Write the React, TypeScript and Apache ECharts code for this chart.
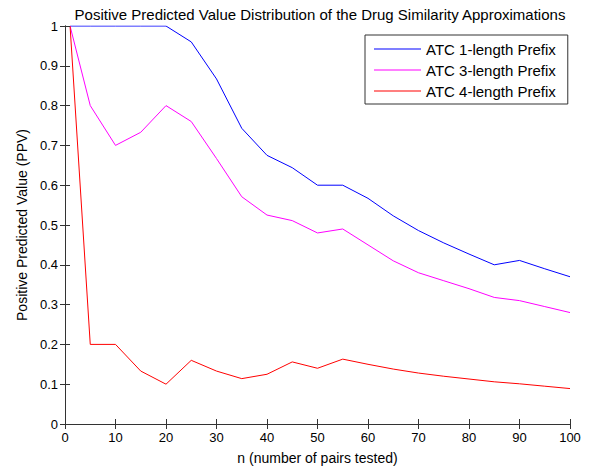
import React, { useEffect, useRef } from "react";
import * as echarts from "echarts";

const nValues = [1, 5, 10, 15, 20, 25, 30, 35, 40, 45, 50, 55, 60, 65, 70, 75, 80, 85, 90, 95, 100];
const atc1 = [1, 1, 1, 1, 1, 0.96, 0.867, 0.743, 0.675, 0.644, 0.6, 0.6, 0.567, 0.523, 0.486, 0.455, 0.427, 0.4, 0.411, 0.39, 0.37];
const atc3 = [1, 0.8, 0.7, 0.733, 0.8, 0.76, 0.667, 0.571, 0.525, 0.511, 0.48, 0.49, 0.45, 0.41, 0.38, 0.36, 0.34, 0.318, 0.31, 0.295, 0.28];
const atc4 = [1, 0.2, 0.2, 0.133, 0.1, 0.16, 0.133, 0.114, 0.125, 0.156, 0.14, 0.163, 0.15, 0.138, 0.128, 0.12, 0.113, 0.106, 0.101, 0.095, 0.089];
const seriesNames = ["ATC 1-length Prefix", "ATC 3-length Prefix", "ATC 4-length Prefix"];
const seriesColors = ["#0000ff", "#ff00ff", "#ff0000"];

const FONT = "'Liberation Sans', Arial, sans-serif";

export default function App() {
  const ref = useRef<HTMLDivElement>(null);
  useEffect(() => {
    if (!ref.current) return;
    const chart = echarts.init(ref.current, null, { renderer: "svg" });
    const allData = [atc1, atc3, atc4];
    const axisLine = { show: true, lineStyle: { color: "#333", width: 1 } };
    const tick = { show: true, inside: true, length: 5, lineStyle: { color: "#333" } };
    const label = { color: "#000", fontSize: 13, fontFamily: FONT };
    chart.setOption({
      animation: false,
      backgroundColor: "#fff",
      title: {
        text: "Positive Predicted Value Distribution of the Drug Similarity Approximations",
        left: 315,
        textAlign: "center",
        top: 2,
        textStyle: { fontSize: 15, fontWeight: "normal", color: "#000", fontFamily: FONT },
      },
      grid: { left: 65, right: 25, top: 26, bottom: 49, containLabel: false },
      legend: {
        orient: "vertical",
        left: 365,
        top: 35,
        padding: [5, 12, 4, 9],
        itemWidth: 47,
        itemHeight: 1,
        itemGap: 3,
        icon: "rect",
        backgroundColor: "#fff",
        borderColor: "#333",
        borderWidth: 1,
        borderRadius: 0,
        textStyle: { fontSize: 15, color: "#000", fontFamily: FONT, lineHeight: 18 },
        data: seriesNames,
        itemStyle: { borderWidth: 0 },
      },
      xAxis: [
        {
          type: "value",
          min: 0,
          max: 100,
          interval: 10,
          position: "bottom",
          name: "n (number of pairs tested)",
          nameLocation: "middle",
          nameGap: 27,
          nameTextStyle: { fontSize: 14, color: "#000", fontFamily: FONT },
          axisLine,
          axisTick: tick,
          axisLabel: { ...label, margin: 7 },
          splitLine: { show: false },
          z: 5,
        },
        {
          type: "value",
          min: 0,
          max: 100,
          interval: 10,
          position: "top",
          axisLine,
          axisTick: tick,
          axisLabel: { show: false },
          splitLine: { show: false },
          z: 5,
        },
      ],
      yAxis: [
        {
          type: "value",
          min: 0,
          max: 1,
          interval: 0.1,
          position: "left",
          name: "Positive Predicted Value (PPV)",
          nameLocation: "middle",
          nameGap: 36,
          nameTextStyle: { fontSize: 14, color: "#000", fontFamily: FONT },
          axisLine,
          axisTick: tick,
          axisLabel: { ...label, margin: 7 },
          splitLine: { show: false },
          z: 5,
        },
        {
          type: "value",
          min: 0,
          max: 1,
          interval: 0.1,
          position: "right",
          axisLine,
          axisTick: tick,
          axisLabel: { show: false },
          splitLine: { show: false },
          z: 5,
        },
      ],
      series: seriesNames.map((name, i) => ({
        name,
        type: "line",
        symbol: "none",
        z: 1,
        color: seriesColors[i],
        lineStyle: { color: seriesColors[i], width: 1 },
        itemStyle: { color: seriesColors[i] },
        data: nValues.map((x, j) => [x, allData[i][j]]),
      })),
    });
    return () => chart.dispose();
  }, []);
  return (
    <div
      ref={ref}
      style={{ position: "absolute", left: 0, top: 0, width: 595, height: 473 }}
    />
  );
}
